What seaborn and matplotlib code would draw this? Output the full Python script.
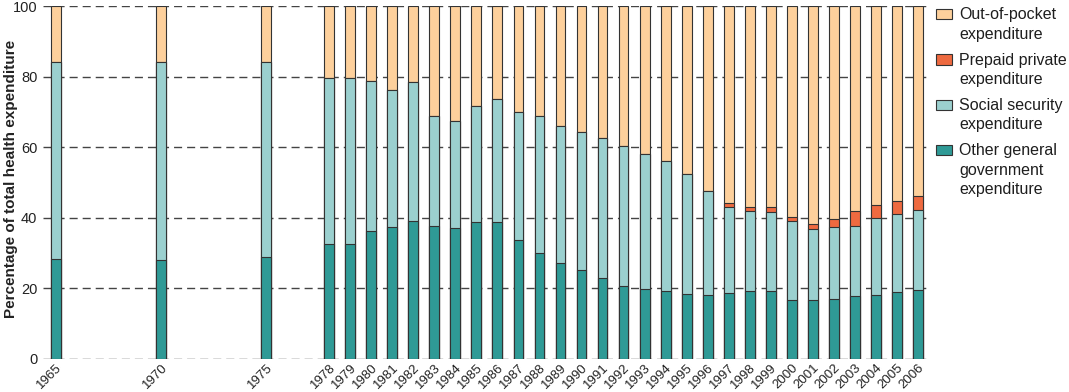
import pandas as pd
import matplotlib
matplotlib.use('Agg')
import matplotlib.pyplot as plt
from matplotlib.patches import Rectangle
import seaborn as sns

# Годы и доли (%) каждой статьи расходов
years = [1965, 1970, 1975] + list(range(1978, 2007))
other_gov = [28.2, 28.0, 29.0,
             32.5, 32.5, 36.2, 37.3, 39.1, 37.6, 37.1, 38.8, 38.8, 33.7,
             29.9, 27.3, 25.2, 22.9, 20.7, 19.8, 19.4, 18.5, 18.1, 18.6,
             19.2, 19.2, 16.8, 16.6, 17.1, 17.9, 18.1, 18.9, 19.5]
social_sec = [55.8, 56.0, 55.0,
              47.0, 47.1, 42.6, 39.0, 39.3, 31.1, 30.3, 32.8, 34.9, 36.2,
              38.8, 38.8, 39.1, 39.8, 39.6, 38.2, 36.8, 33.8, 29.5, 24.5,
              22.8, 22.4, 22.2, 20.1, 20.2, 19.9, 21.9, 22.2, 22.6]
prepaid = [0.0, 0.0, 0.0,
           0.0, 0.0, 0.0, 0.0, 0.0, 0.0, 0.0, 0.0, 0.0, 0.0,
           0.0, 0.0, 0.0, 0.0, 0.0, 0.0, 0.0, 0.0, 0.0, 1.0,
           1.2, 1.4, 1.1, 1.5, 2.4, 4.2, 3.7, 3.8, 4.1]

labels = [['Out-of-pocket', 'expenditure'],
          ['Prepaid private', 'expenditure'],
          ['Social security', 'expenditure'],
          ['Other general', 'government', 'expenditure']]
colors = ['#fdd09c', '#ee6a40', '#9bd0cf', '#2f9a96']

df = pd.DataFrame({'year': years, 'other': other_gov,
                   'social': social_sec, 'prepaid': prepaid})
df['out_of_pocket'] = 100 - df['other'] - df['social'] - df['prepaid']
# накопленные высоты для наложения столбцов
df['top_other'] = df['other']
df['top_social'] = df['top_other'] + df['social']
df['top_prepaid'] = df['top_social'] + df['prepaid']
df['top_oop'] = df['top_prepaid'] + df['out_of_pocket']

sns.set_style('white')
plt.rcParams['font.family'] = ['Liberation Sans', 'DejaVu Sans']

W, H = 1069, 392
fig = plt.figure(figsize=(W / 100, H / 100), dpi=100)
ax = fig.add_axes([43 / W, 1 - 359 / H, 887 / W, 353 / H])

edge = '#333333'
for col, c in zip(['top_oop', 'top_prepaid', 'top_social', 'top_other'], colors):
    sns.barplot(data=df, x='year', y=col, native_scale=True, width=0.47,
                color=c, saturation=1, edgecolor=edge, linewidth=0.8,
                errorbar=None, ax=ax)

ax.set_xlim(1964.38, 2006.58)
ax.set_ylim(0, 100)
ax.set_yticks([0, 20, 40, 60, 80, 100])
ax.set_xticks(years)
ax.set_xticklabels([str(y) for y in years], rotation=45, ha='right',
                   rotation_mode='anchor', fontsize=9.5, color='#222222')
ax.tick_params(axis='y', labelsize=10.5, length=0, pad=4, colors='#222222')
ax.tick_params(axis='x', length=0, pad=2)
ax.set_xlabel('')
ax.set_ylabel('Percentage of total health expenditure', fontsize=11,
              fontweight='bold', color='#222222')
ax.yaxis.set_label_coords(-0.028, 0.51)

ax.grid(axis='y', linestyle=(0, (5.8, 3.6)), color='#444444', linewidth=1.0)
ax.set_axisbelow(True)
sns.despine(ax=ax, left=True, bottom=True)

# легенда справа: квадрат выровнен по первой строке подписи
x_patch, x_text = 936, 959
baseline = 19.3
line_step = 19.4
entry_gap = 26.0
for c, lines in zip(colors, labels):
    fig.add_artist(Rectangle((x_patch / W, 1 - baseline / H), 16 / W, 10.5 / H,
                             transform=fig.transFigure, facecolor=c,
                             edgecolor=edge, linewidth=0.8))
    for i, line in enumerate(lines):
        fig.text(x_text / W, 1 - (baseline + i * line_step) / H, line,
                 fontsize=11.5, color='#1e1e1e', va='baseline', ha='left')
    baseline += (len(lines) - 1) * line_step + entry_gap

fig.savefig('out.png', dpi=100)
plt.close(fig)
